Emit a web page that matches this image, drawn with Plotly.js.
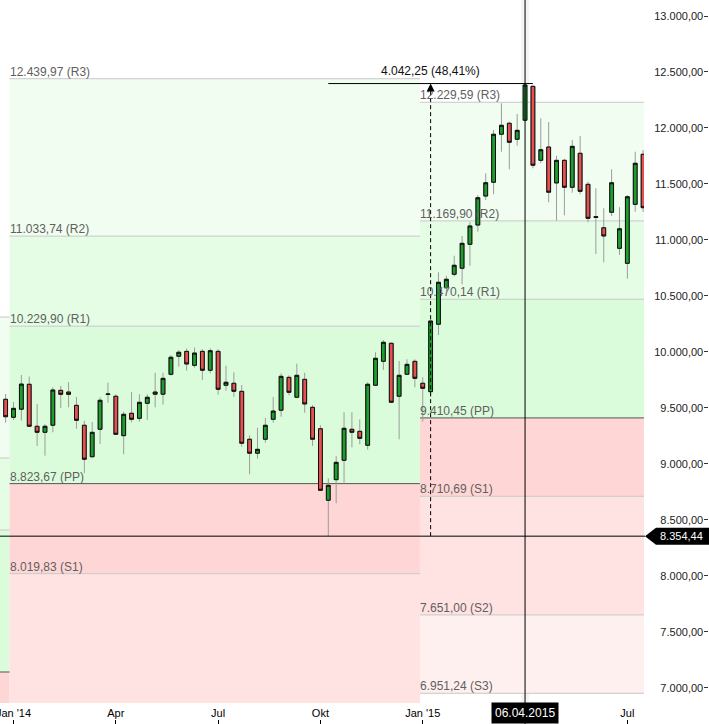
<!DOCTYPE html>
<html>
<head>
<meta charset="utf-8">
<script src="https://cdn.plot.ly/plotly-3.0.1.min.js"></script>
<style>
html,body{margin:0;padding:0;background:#fff;}
#chart{width:709px;height:724px;}
#chart .boxlayer .trace:nth-child(2) path{mix-blend-mode:multiply;}
</style>
</head>
<body>
<div id="chart"></div>
<script>
// ---------- DATA ----------
const weeks = [
 '2013-12-30','2014-01-06','2014-01-13','2014-01-20','2014-01-27','2014-02-03','2014-02-10','2014-02-17','2014-02-24',
 '2014-03-03','2014-03-10','2014-03-17','2014-03-24','2014-03-31','2014-04-07','2014-04-14','2014-04-21','2014-04-28',
 '2014-05-05','2014-05-12','2014-05-19','2014-05-26','2014-06-02','2014-06-09','2014-06-16','2014-06-23','2014-06-30',
 '2014-07-07','2014-07-14','2014-07-21','2014-07-28','2014-08-04','2014-08-11','2014-08-18','2014-08-25','2014-09-01',
 '2014-09-08','2014-09-15','2014-09-22','2014-09-29','2014-10-06','2014-10-13','2014-10-20','2014-10-27','2014-11-03',
 '2014-11-10','2014-11-17','2014-11-24','2014-12-01','2014-12-08','2014-12-15','2014-12-22','2014-12-29','2015-01-05',
 '2015-01-12','2015-01-19','2015-01-26','2015-02-02','2015-02-09','2015-02-16','2015-02-23','2015-03-02','2015-03-09',
 '2015-03-16','2015-03-23','2015-03-30','2015-04-06','2015-04-13','2015-04-20','2015-04-27','2015-05-04','2015-05-11',
 '2015-05-18','2015-05-25','2015-06-01','2015-06-08','2015-06-15','2015-06-22','2015-06-29','2015-07-06','2015-07-13',
 '2015-07-20'
];
const openVals = [
 9577,9416,9488,9711,9336,9282,9345,9657,9642,
 9523,9345,9064,9309,9620,9604,9252,9452,9407,
 9541,9622,9622,9800,9961,10005,9880,10005,9836,
 10005,9702,9720,9648,9220,9095,9220,9398,9479,
 9773,9595,9755,9505,9314,8675,8859,9032,9309,
 9291,9166,9702,9916,10077,9604,9800,9916,9720,
 9645,10247,10573,10693,10747,10961,11133,11392,11515,
 11944,12042,11899,12069,12372,11711,11830,11509,11711,
 11470,11774,11497,11208,11109,11247,10925,10791,11318,
 11765
];
const highVals = [
 9624,9553,9794,9780,9535,9354,9684,9696,9731,
 9597,9386,9374,9595,9725,9622,9466,9642,9622,
 9622,9814,9814,9972,10017,10030,10039,10026,10033,
 10026,9877,9818,9705,9255,9323,9410,9597,9809,
 9791,9895,9814,9526,9345,8871,9070,9461,9461,
 9398,9729,9997,10106,10086,9919,9934,9934,9773,
 10294,10711,10680,10859,11035,11160,11401,11595,11982,
 12220,12056,12125,12390,12380,12086,12053,11752,11726,
 11893,11928,11520,11461,11283,11631,11292,11401,11788,
 11803
];
const lowVals = [
 9368,9392,9386,9332,9160,9073,9282,9499,9505,
 9314,8916,9050,9178,9546,9260,9086,9371,9377,
 9392,9505,9529,9788,9868,9832,9859,9749,9809,
 9618,9654,9600,9153,8907,9046,9189,9368,9421,
 9613,9586,9457,9160,8760,8355,8648,8832,9148,
 9175,9127,9696,9839,9545,9220,9795,9684,9377,
 9600,10151,10540,10675,10604,10770,11074,11357,11408,
 11788,11631,11842,12060,11640,11685,11336,11172,11220,
 11422,11408,11158,10874,10800,11214,10866,10654,11252,
 11249
];
const closeVals = [
 9421,9496,9713,9336,9282,9336,9660,9621,9621,
 9389,9041,9282,9568,9624,9264,9443,9398,9550,
 9595,9642,9764,9952,9997,9892,9990,9836,10011,
 9666,9729,9648,9184,9095,9130,9345,9472,9782,
 9639,9791,9535,9220,8764,8809,9014,9318,9282,
 9228,9711,9943,10086,9550,9791,9889,9764,9675,
 10276,10622,10649,10774,10970,11125,11377,11511,11944,
 12024,11872,11979,12384,11667,11806,11426,11711,11470,
 11836,11434,11193,11202,11035,11511,11100,11386,11685,
 11288
];

// pivot levels (R3, R2, R1, PP, S1, S2, S3)
const pivotNames = ['R3','R2','R1','PP','S1','S2','S3'];
const pivotsPrev = [10311.8, 9052.5, 8409.5, 7141.3];          // unlabeled strip (previous year)
const pivots2014 = [12439.97, 11033.74, 10229.90, 8823.67, 8019.83];
const pivots2015 = [12229.59, 11169.90, 10470.14, 9410.45, 8710.69, 7651.00, 6951.24];
const periodStarts = ['2014-01-02 12:00', '2015-01-02 12:00'];

// crosshair + measurement
const crossDate = '2015-04-06';
const crossValue = 8354.44;
const measureStart = '2014-10-13';
const measureEnd = '2015-04-13';
const measureDiff = 4042.25;
const measurePct = 48.41;

const xTickVals = ['2014-01-06','2014-04-07','2014-07-07','2014-10-06','2015-01-05','2015-07-06'];
const xTickText = ["Jan '14",'Apr','Jul','Okt',"Jan '15",'Jul'];
const yTickVals = [7000,7500,8000,8500,9000,9500,10000,10500,11000,11500,12000,12500,13000];

// ---------- LAYOUT GEOMETRY ----------
const W = 709, H = 724, MR = 1, PW = W - MR, PH = H;
const DAY = 86400000;
const pxPerDay = 7.87 / 7;
const anchorMs = Date.UTC(2014,0,6), anchorPx = 13.5;
const pxPerUnit = 0.11197;
const yTop = 13000 + 16 / pxPerUnit;
const yBot = yTop - PH / pxPerUnit;
const chartBottom = yTop - 703 / pxPerUnit;
function msToStr(ms){ return new Date(ms).toISOString().replace('T',' ').replace('Z',''); }
function pxToDate(px){ return msToStr(anchorMs + (px - anchorPx) / pxPerDay * DAY); }
const xRange = [pxToDate(0), pxToDate(PW)];
const chartEndPx = 644;
const chartEnd = pxToDate(chartEndPx);
const xStart = pxToDate(0);

function de(n){
  const s = Math.abs(n).toFixed(2).split('.');
  return (n<0?'-':'') + s[0].replace(/\B(?=(\d{3})+(?!\d))/g,'.') + ',' + s[1];
}
function toMs(d){ return new Date(d.replace(' ','T')+(d.length<=10?'T00:00:00Z':'Z')).getTime(); }

const bandColors = ['#f0fdf0','#e5fde5','#dbfcdb','#ffd6d6','#ffe2e2','#fff0f0'];
const lineColor = '#c8c8c8', ppColor = '#555555';
const FONT = 'Arial, "Liberation Sans", sans-serif';

const shapes = [];
const annotations = [];

function addBands(levels, x0, x1, extendBottom){
  for(let i=0;i<levels.length;i++){
    const top = levels[i];
    const bottom = (i+1<levels.length) ? levels[i+1] : (extendBottom ? chartBottom : null);
    if(bottom !== null){
      shapes.push({type:'rect', layer:'below', xref:'x', yref:'y', x0:x0, x1:x1, y0:bottom, y1:top,
        fillcolor:bandColors[i], line:{width:0}});
    }
  }
}
function addLines(levels, x0, x1, labels){
  levels.forEach((v,i)=>{
    let col = (i===3) ? ppColor : lineColor;
    if(labels === 2014 && i===2) col = '#cbc3d3';
    shapes.push({type:'line', layer:'below', xref:'x', yref:'y', x0:x0, x1:x1, y0:v, y1:v,
      line:{color:col, width:1}});
    if(labels){
      annotations.push({xref:'x', yref:'y', x:x0, y:v, xanchor:'left', yanchor:'bottom',
        xshift:-2, yshift:-2, showarrow:false, text: de(v)+' ('+pivotNames[i]+')',
        font:{family:FONT, size:12, color:'#5f5f5f'}});
    }
  });
}

addBands(pivotsPrev, xStart, periodStarts[0], true);
addBands(pivots2014, periodStarts[0], periodStarts[1], true);
addBands(pivots2015, periodStarts[1], chartEnd, false);
addLines(pivotsPrev, xStart, periodStarts[0], null);
addLines(pivots2014, periodStarts[0], periodStarts[1], 2014);
addLines(pivots2015, periodStarts[1], chartEnd, 2015);

// crosshair highlight slot
const crossMs = toMs(crossDate);
shapes.push({type:'rect', layer:'below', xref:'x', yref:'paper',
  x0: msToStr(crossMs - 3.5*DAY), x1: msToStr(crossMs + 3.5*DAY),
  y0: 21/PH, y1: 1, fillcolor:'rgba(0,0,0,0.045)', line:{width:0}});

// clip the chart area on the right edge (last candle is cut at the chart border)
shapes.push({type:'rect', layer:'above', xref:'paper', yref:'paper',
  x0: chartEndPx/PW, x1: 651/PW, y0: 0.55, y1: 0.95, fillcolor:'#fff', line:{width:0}});

// measurement
const measureHigh = crossValue + measureDiff;
const midDate = msToStr((toMs(measureStart) + toMs(measureEnd)) / 2);
shapes.push({type:'line', layer:'above', xref:'x', yref:'y', x0:measureStart, x1:measureEnd,
  y0:measureHigh, y1:measureHigh, line:{color:'#000', width:1}});
shapes.push({type:'line', layer:'above', xref:'x', yref:'y', x0:midDate, x1:midDate,
  y0:crossValue, y1:measureHigh - 5/pxPerUnit, line:{color:'#000', width:1, dash:'4px,3px'}});
annotations.push({xref:'x', yref:'y', x:midDate, y:measureHigh, ax:0, ay:7, showarrow:true,
  arrowhead:2, arrowsize:1.6, arrowwidth:1, arrowcolor:'#000', standoff:0, text:''});
annotations.push({xref:'x', yref:'y', x:midDate, y:measureHigh, xanchor:'center', yanchor:'bottom',
  yshift:4, showarrow:false, text: de(measureDiff)+' ('+de(measurePct)+'%)',
  font:{family:FONT, size:12, color:'#111'}});

// crosshair lines
shapes.push({type:'line', layer:'above', xref:'paper', yref:'y', x0:0, x1:645/PW,
  y0:crossValue, y1:crossValue, line:{color:'#000', width:1}});
shapes.push({type:'line', layer:'above', xref:'x', yref:'paper', x0:crossDate, x1:crossDate,
  y0:0, y1:1, line:{color:'#000', width:1}});

// price tag at right
const hh = 8.5 / pxPerUnit;
const tx = 645/PW, bx = 656/PW, rx = 712/PW;
shapes.push({type:'path', layer:'above', xref:'paper', yref:'y',
  path:`M ${tx},${crossValue} L ${bx},${crossValue+hh} L ${rx},${crossValue+hh} L ${rx},${crossValue-hh} L ${bx},${crossValue-hh} Z`,
  fillcolor:'#000', line:{width:0}});
annotations.push({xref:'paper', yref:'y', x:681/PW, y:crossValue, xanchor:'center', yanchor:'middle',
  showarrow:false, text: de(crossValue), font:{family:FONT, size:11, color:'#fff'}});

// date tag at bottom
annotations.push({xref:'x', yref:'paper', x:crossDate, y:0, xanchor:'center', yanchor:'bottom',
  showarrow:false, text: crossDate.split('-').reverse().join('.'), bgcolor:'#000', borderpad:3,
  font:{family:FONT, size:12, color:'#fff'}});

// ---------- TRACES ----------
const bodyHigh = openVals.map((o,i)=>Math.max(o, closeVals[i]));
const bodyLow = openVals.map((o,i)=>Math.min(o, closeVals[i]));

const wickTrace = {
  type:'candlestick', x:weeks, open:openVals, high:highVals, low:lowVals, close:closeVals,
  increasing:{line:{color:'#9c9c9c', width:1}, fillcolor:'rgba(0,0,0,0)'},
  decreasing:{line:{color:'#9c9c9c', width:1}, fillcolor:'rgba(0,0,0,0)'},
  hoverinfo:'skip', showlegend:false
};
const bodyTrace = {
  type:'candlestick', x:weeks, open:openVals, high:bodyHigh, low:bodyLow, close:closeVals,
  increasing:{line:{color:'#151515', width:1}, fillcolor:'#1c9e2c'},
  decreasing:{line:{color:'#151515', width:1}, fillcolor:'#e85050'},
  hoverinfo:'skip', showlegend:false
};

const layout = {
  width:W, height:H,
  margin:{l:0, r:MR, t:0, b:0, pad:0},
  paper_bgcolor:'#fff', plot_bgcolor:'#fff',
  separators:',.',
  showlegend:false,
  font:{family:FONT, size:11, color:'#222'},
  xaxis:{type:'date', range:xRange, tickvals:xTickVals, ticktext:xTickText,
    ticks:'inside', ticklen:4, tickcolor:'#000', tickwidth:1, ticklabelposition:'inside',
    ticklabeloverflow:'allow',
    tickfont:{family:FONT, size:11, color:'#000'}, showgrid:false, zeroline:false, showline:false,
    rangeslider:{visible:false}, fixedrange:true},
  yaxis:{side:'right', range:[yBot, yTop], tickvals:yTickVals, tickformat:',.2f',
    ticks:'inside', ticklen:4, tickcolor:'#333', tickwidth:1, ticklabelposition:'inside',
    tickfont:{family:FONT, size:11, color:'#222'}, showgrid:false, zeroline:false, showline:false,
    fixedrange:true},
  shapes:shapes,
  annotations:annotations
};

Plotly.newPlot('chart', [wickTrace, bodyTrace], layout, {displayModeBar:false, staticPlot:true});
</script>
</body>
</html>
